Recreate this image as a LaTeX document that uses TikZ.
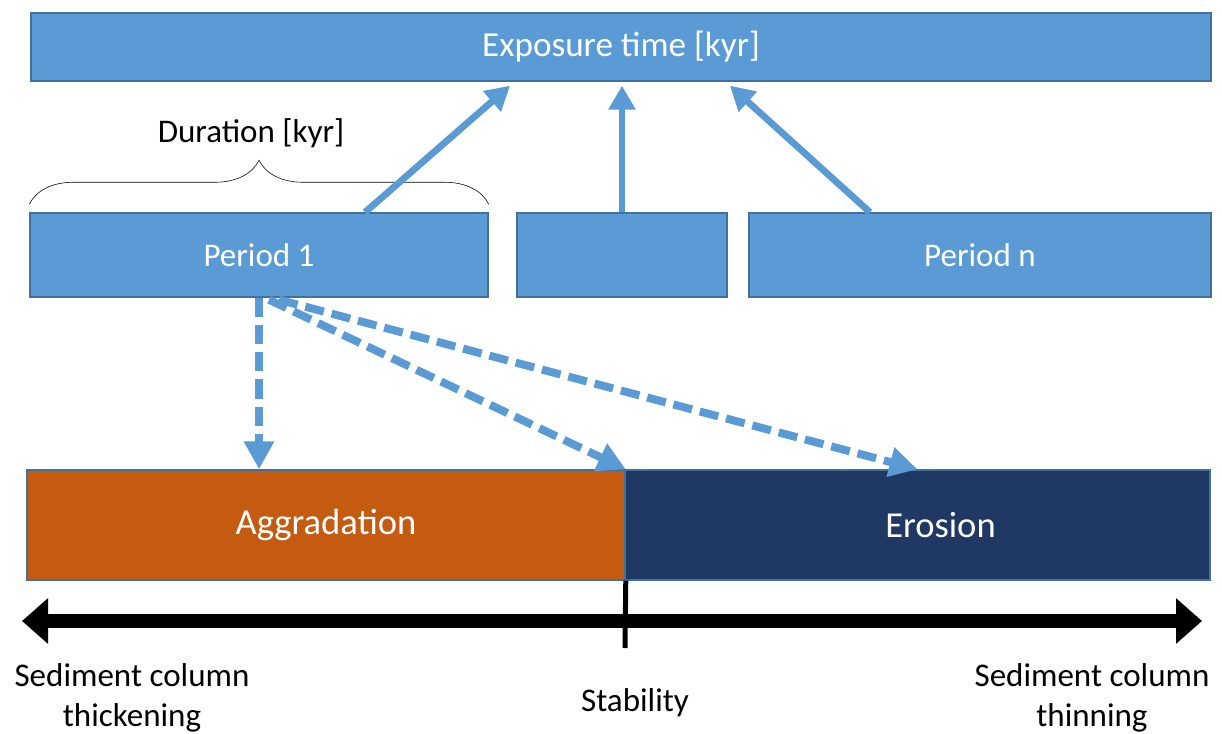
\documentclass[tikz,border=0pt]{standalone}
\usepackage{fontspec}
\setmainfont{Carlito}
\usetikzlibrary{arrows.meta,decorations.pathreplacing}
\definecolor{boxblue}{HTML}{5B9BD5}
\definecolor{edgeblue}{HTML}{41719C}
\definecolor{aggorange}{HTML}{C55A11}
\definecolor{erosnavy}{HTML}{203864}

\begin{document}
\begin{tikzpicture}[x=0.025cm,y=-0.025cm,
	lbl/.style={font=\fontsize{23.5}{28.5}\selectfont},
	box/.style={lbl,draw=edgeblue,line width=1pt,fill=boxblue,text=white,minimum height=2.1cm,inner sep=0pt},
	zone/.style={font=\fontsize{26}{30}\selectfont,draw=edgeblue,line width=1pt,text=white,minimum height=2.75cm,inner sep=0pt},
	flow/.style={draw=boxblue,line width=0.17cm,-{Triangle[length=0.6cm,width=0.65cm]}},
	maybe/.style={draw=boxblue,line width=0.2cm,dash pattern=on 0.48cm off 0.2cm,-{Triangle[length=0.7cm,width=0.72cm]}},
	scale arrow/.style={line width=0.35cm,{Triangle[length=0.65cm,width=1.1cm]}-{Triangle[length=0.65cm,width=1.1cm]}}]
	\useasboundingbox (0,0) rectangle (1222,734);

	% boxes
	\node[box,minimum width=29.5cm,minimum height=1.7cm,font=\fontsize{25}{30}\selectfont] (expo) at (621,47) {Exposure time [kyr]};
	\node[box,minimum width=11.45cm] (p1) at (259,255) {Period 1};
	\node[box,minimum width=5.25cm] (pmid) at (622,255) {};
	\node[box,minimum width=11.55cm] (pn) at (980,255) {Period n};
	\node[zone,fill=aggorange,minimum width=14.95cm] (agg) at (326,525) {Aggradation};
	\node[zone,fill=erosnavy,minimum width=14.625cm] (ero) at (917.5,525) {\hspace*{1.15cm}Erosion};

	% duration brace
	\draw[decorate,decoration={brace,amplitude=1.1cm}] ([yshift=0.2cm]p1.north west) -- ([yshift=0.2cm]p1.north east);
	\node[lbl] (dur) at (251,133) {Duration [kyr]};

	% periods to exposure time
	\draw[flow] ([xshift=2.65cm]p1.north) -- ([xshift=-2.775cm,yshift=-0.1cm]expo.south);
	\draw[flow] (pmid.north) -- ([yshift=-0.1cm]pmid.north |- expo.south);
	\draw[flow] ([xshift=-2.75cm]pn.north) -- ([xshift=2.725cm,yshift=-0.1cm]expo.south);

	% period 1 to the regimes
	\draw[maybe] (p1.south) -- (p1.south |- agg.north);
	\draw[maybe] ([xshift=0.25cm,yshift=-0.05cm]p1.south) -- (agg.north east);
	\draw[maybe] ([xshift=0.5cm,yshift=-0.05cm]p1.south) -- (ero.north);

	% sediment axis
	\coordinate (axl) at (22,621);
	\coordinate (axr) at (1202,621);
	\coordinate (stab) at (625,648);
	\draw[scale arrow] (axl) -- (axr);
	\draw[line width=0.125cm] (agg.south east) -- (stab);

	\node[lbl,align=center] (thick) at (132,698) {Sediment column\\thickening};
	\node[lbl] (stable) at (635,703) {Stability};
	\node[lbl,align=center] (thin) at (1092,698) {Sediment column\\thinning};
\end{tikzpicture}
\end{document}
